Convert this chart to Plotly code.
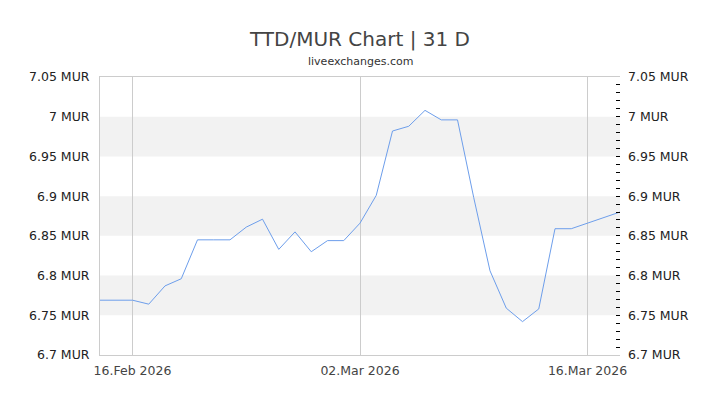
import plotly.graph_objects as go
import pandas as pd

dates = pd.date_range("2026-02-14", "2026-03-18", freq="D").strftime("%Y-%m-%d").tolist()
rates = [6.769, 6.769, 6.769, 6.764, 6.787, 6.796, 6.845, 6.845, 6.845, 6.861,
         6.871, 6.833, 6.855, 6.830, 6.844, 6.844, 6.866, 6.901, 6.982, 6.988,
         7.008, 6.996, 6.996, 6.898, 6.806, 6.759, 6.742, 6.758, 6.859, 6.859,
         6.866, 6.873, 6.880]

y_ticks = [6.7, 6.75, 6.8, 6.85, 6.9, 6.95, 7.0, 7.05]
y_labels = ["6.7 MUR", "6.75 MUR", "6.8 MUR", "6.85 MUR", "6.9 MUR", "6.95 MUR", "7 MUR", "7.05 MUR"]
x_ticks = ["2026-02-16", "2026-03-02", "2026-03-16"]
x_labels = ["16.Feb 2026", "02.Mar 2026", "16.Mar 2026"]

font = "DejaVu Sans"

fig = go.Figure()
fig.add_trace(go.Scatter(x=dates, y=rates, mode="lines",
                         line=dict(color="#6d9eeb", width=1), hoverinfo="x+y"))
# invisible copy to drive the right-hand axis
fig.add_trace(go.Scatter(x=dates, y=rates, mode="lines", yaxis="y2",
                         line=dict(color="rgba(0,0,0,0)", width=0), hoverinfo="skip"))

# alternating grey bands
for lo, hi in zip(y_ticks[1::2], y_ticks[2::2]):
    fig.add_shape(type="rect", xref="paper", yref="y", x0=0, x1=1, y0=lo, y1=hi,
                  fillcolor="#f2f2f2", line_width=0, layer="below")

fig.add_annotation(text="liveexchanges.com", xref="paper", yref="paper",
                   x=0.5, y=1.054, xanchor="center", yanchor="middle",
                   showarrow=False, font=dict(family=font, size=11, color="#333"))

fig.update_layout(
    width=720, height=405,
    margin=dict(l=100, r=100, t=77, b=50),
    paper_bgcolor="white", plot_bgcolor="white",
    showlegend=False,
    font=dict(family=font, size=12.5, color="#222"),
    title=dict(text="TTD/MUR Chart | 31 D", x=0.5, xanchor="center",
               y=0.904, yanchor="middle",
               font=dict(family=font, size=20, color="#444")),
    xaxis=dict(range=[dates[0], dates[-1]], tickvals=x_ticks, ticktext=x_labels,
               showgrid=True, gridcolor="#ccc", gridwidth=1,
               showline=True, linecolor="#ccc", mirror=True,
               ticks="outside", ticklen=4, tickcolor="rgba(0,0,0,0)",
               tickfont=dict(color="#444"), zeroline=False),
    yaxis=dict(range=[6.7, 7.05], tickvals=y_ticks, ticktext=y_labels,
               showgrid=False, showline=True, linecolor="#ccc",
               ticks="outside", ticklen=7, tickcolor="rgba(0,0,0,0)", zeroline=False),
    yaxis2=dict(range=[6.7, 7.05], tickvals=y_ticks, ticktext=y_labels,
                overlaying="y", side="right", showgrid=False, showline=False,
                ticks="inside", ticklen=4, tickcolor="black", ticklabelstandoff=7,
                minor=dict(dtick=0.01, tick0=6.7, ticks="inside", ticklen=4,
                           tickcolor="black", showgrid=False),
                zeroline=False),
)

fig.write_html("out.html", config={"displayModeBar": False},
               post_script="document.body.style.margin='0';")
